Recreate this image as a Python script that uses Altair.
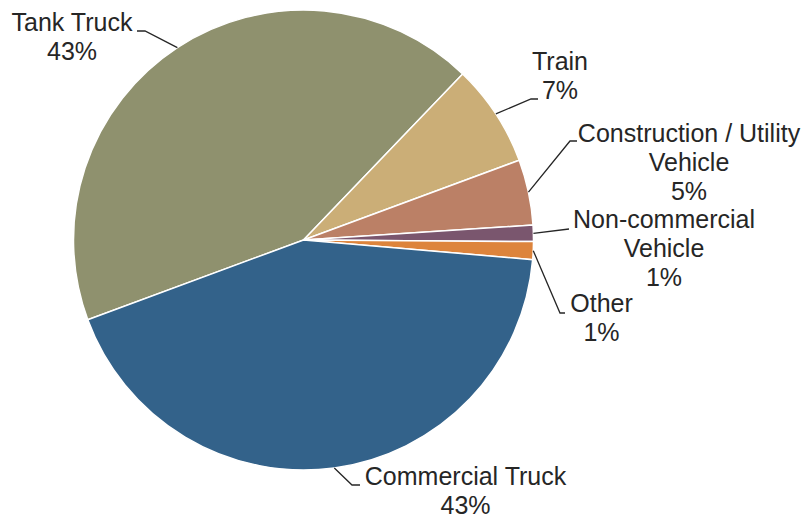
import altair as alt
import pandas as pd
import numpy as np

# ---- data ----
categories = ["Tank Truck", "Train", "Construction / Utility Vehicle",
              "Non-commercial Vehicle", "Other", "Commercial Truck"]
label_text = ["Tank Truck", "Train", "Construction / Utility\nVehicle",
              "Non-commercial\nVehicle", "Other", "Commercial Truck"]
shares = [42.8, 7.2, 4.6, 1.15, 1.25, 43.0]
colors = ["#8F916E", "#CBAE77", "#BB8066", "#7A566E", "#DD843C", "#33628A"]

# ---- layout (label placement relative to pie centre, px) ----
start_deg = 249.7
R = 230
W, H = 591, 464
elbow_x = [-158.5, 227.5, 266.5, 265.5, 256.5, 48.5]
elbow_y = [-209, -141, -99, -11, 73, 245]
end_x = [-166.5, 234.5, 273.5, 265.5, 261.5, 56.5]
end_y = [-209, -141, -99, -11, 73, 245]
text_x = [-231.5, 256.5, 385.5, 360.5, 298, 162]
text_y = [-209, -170, -98.5, -12, 72, 245]

total = sum(shares)
pct = [f"{round(v / total * 100):.0f}%" for v in shares]

pie_df = pd.DataFrame({"category": categories, "share": shares,
                       "idx": list(range(len(categories)))})

# leader lines: start at slice mid-angle on the pie edge
cum = np.cumsum([0] + shares)
mid_deg = start_deg + (cum[:-1] + cum[1:]) / 2 / total * 360
mid = np.deg2rad(mid_deg)
edge_x = R * np.sin(mid)
edge_y = -R * np.cos(mid)

rows = []
for i, c in enumerate(categories):
    rows.append({"category": c, "step": 0, "x": float(edge_x[i]), "y": float(edge_y[i])})
    rows.append({"category": c, "step": 1, "x": elbow_x[i], "y": elbow_y[i]})
    rows.append({"category": c, "step": 2, "x": end_x[i], "y": end_y[i]})
line_df = pd.DataFrame(rows)

text_df = pd.DataFrame({"category": categories,
                        "label": [t + "\n" + p for t, p in zip(label_text, pct)],
                        "x": text_x, "y": text_y})

xs = alt.Scale(domain=[-W / 2, W / 2], nice=False, zero=False)
ys = alt.Scale(domain=[-H / 2, H / 2], nice=False, zero=False, reverse=True)

s = np.deg2rad(start_deg)
pie = alt.Chart(pie_df).mark_arc(outerRadius=R, stroke="white", strokeWidth=1.5).encode(
    theta=alt.Theta("share:Q", stack=True, scale=alt.Scale(range=[s, s + 2 * np.pi])),
    order=alt.Order("idx:Q"),
    color=alt.Color("category:N", scale=alt.Scale(domain=categories, range=colors), legend=None),
)

lines = alt.Chart(line_df).mark_line(color="#262626", strokeWidth=1.3).encode(
    x=alt.X("x:Q", scale=xs, axis=None),
    y=alt.Y("y:Q", scale=ys, axis=None),
    detail="category:N",
    order="step:Q",
)

texts = alt.Chart(text_df).mark_text(
    align="center", baseline="alphabetic", fontSize=25, font="Liberation Sans",
    lineBreak="\n", lineHeight=29, color="#262626",
).encode(
    x=alt.X("x:Q", scale=xs, axis=None),
    y=alt.Y("y:Q", scale=ys, axis=None),
    text="label:N",
)

chart = alt.layer(pie, lines, texts).properties(
    width=W, height=H,
    autosize=alt.AutoSizeParams(type="none"),
    padding={"left": 0, "top": 0, "right": 202, "bottom": 49},
).configure_view(stroke=None)

chart.save("out.html", embed_options={"renderer": "svg", "actions": False})
